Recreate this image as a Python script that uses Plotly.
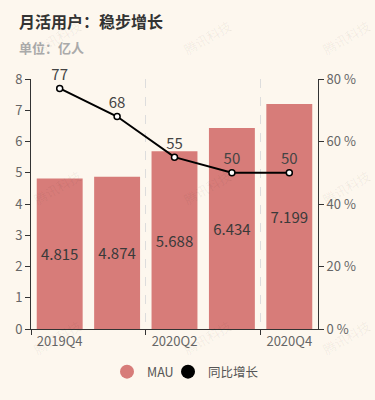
import plotly.graph_objects as go

categories = ["2019Q4", "2020Q1", "2020Q2", "2020Q3", "2020Q4"]
mau = [4.815, 4.874, 5.688, 6.434, 7.199]
yoy = [77, 68, 55, 50, 50]

title_text = "月活用户：稳步增长"
subtitle_text = "单位：亿人"
watermark_text = "腾讯科技"
# watermark tile centres (pixel positions)
wm_px = [57, 207, 346]
wm_py = [37, 187, 337]

W, H = 375, 400
L, R, T, B = 31, 57, 79, 71
FONT = "Noto Sans CJK SC, Noto Sans, sans-serif"
BG = "#fdf7ee"
BAR = "#d77c79"

fig = go.Figure()
fig.add_trace(go.Bar(
    x=categories, y=mau, name="MAU", marker_color=BAR, marker_line_width=0,
    text=[f"{v:.3f}" for v in mau], textposition="inside",
    insidetextanchor="middle", textfont=dict(size=15, color="#3a3a3a"),
    showlegend=False, yaxis="y", cliponaxis=False,
))
fig.add_trace(go.Scatter(
    x=categories, y=yoy, name="同比增长", mode="lines+markers+text",
    line=dict(color="#000000", width=2),
    marker=dict(size=6, color="#ffffff", line=dict(color="#000000", width=1.5)),
    text=[str(v) for v in yoy], textposition="top center",
    textfont=dict(size=15, color="#444444"),
    showlegend=False, yaxis="y2", cliponaxis=False,
))
# legend entries with round icons
fig.add_trace(go.Scatter(x=[None], y=[None], mode="markers", name="MAU",
                         marker=dict(size=14, color=BAR, symbol="circle"),
                         legend="legend"))
fig.add_trace(go.Scatter(x=[None], y=[None], mode="markers", name="同比增长",
                         marker=dict(size=14, color="#000000", symbol="circle"),
                         legend="legend2"))

annotations = [
    dict(text=f"<b>{title_text}</b>", xref="paper", yref="paper",
         x=-(L - 17) / (W - L - R), y=(H - B - 21) / (H - T - B),
         xanchor="left", yanchor="middle", showarrow=False,
         font=dict(size=16, color="#333333", family=FONT)),
    dict(text=f"<b>{subtitle_text}</b>", xref="paper", yref="paper",
         x=-(L - 17) / (W - L - R), y=(H - B - 48) / (H - T - B),
         xanchor="left", yanchor="middle", showarrow=False,
         font=dict(size=13, color="#aaaaaa", family=FONT)),
]
for py in wm_py:
    for px in wm_px:
        annotations.append(dict(
            text=watermark_text, xref="paper", yref="paper",
            x=(px - L) / (W - L - R), y=(H - B - py) / (H - T - B),
            xanchor="center", yanchor="middle", showarrow=False, textangle=-30,
            font=dict(size=13, color="rgba(0,0,0,0.06)", family=FONT)))

legend_common = dict(orientation="h", xref="container", yref="container",
                     xanchor="left", y=1 - 372 / H, yanchor="middle",
                     font=dict(size=12.5, color="#555555"),
                     bgcolor="rgba(0,0,0,0)", itemsizing="trace")

fig.update_layout(
    width=W, height=H,
    margin=dict(l=L, r=R, t=T, b=B, pad=0, autoexpand=False),
    paper_bgcolor=BG, plot_bgcolor=BG,
    font=dict(family=FONT, size=12, color="#666666"),
    bargap=0.2,
    xaxis=dict(
        type="category", tickmode="linear", tick0=0, dtick=2,
        tickson="boundaries", ticks="outside", ticklen=5, tickcolor="#333333",
        showline=True, linecolor="#333333", linewidth=1,
        showgrid=True, gridcolor="#dddddd", griddash="dash", gridwidth=1,
        tickfont=dict(size=13, color="#666666"),
        range=[-0.5, 4.5], fixedrange=True, automargin=False,
    ),
    yaxis=dict(
        range=[0, 8], dtick=1, showgrid=False, zeroline=False,
        showline=True, linecolor="#333333", linewidth=1,
        ticks="outside", ticklen=5, tickcolor="#333333",
        tickfont=dict(size=13, color="#666666"), automargin=False,
        fixedrange=True,
    ),
    yaxis2=dict(
        range=[0, 80], dtick=20, ticksuffix=" %", overlaying="y", side="right",
        showgrid=False, zeroline=False,
        showline=True, linecolor="#333333", linewidth=1,
        ticks="outside", ticklen=5, tickcolor="#333333",
        tickfont=dict(size=13, color="#666666"), automargin=False,
        fixedrange=True,
    ),
    showlegend=True,
    legend=dict(x=(127 - 20) / W, **legend_common),
    legend2=dict(x=(188 - 20) / W, **legend_common),
    annotations=annotations,
)

fig.write_html(
    "out.html",
    config={"displayModeBar": False},
    post_script="document.body.style.margin='0';document.body.style.background='%s';" % BG,
)
